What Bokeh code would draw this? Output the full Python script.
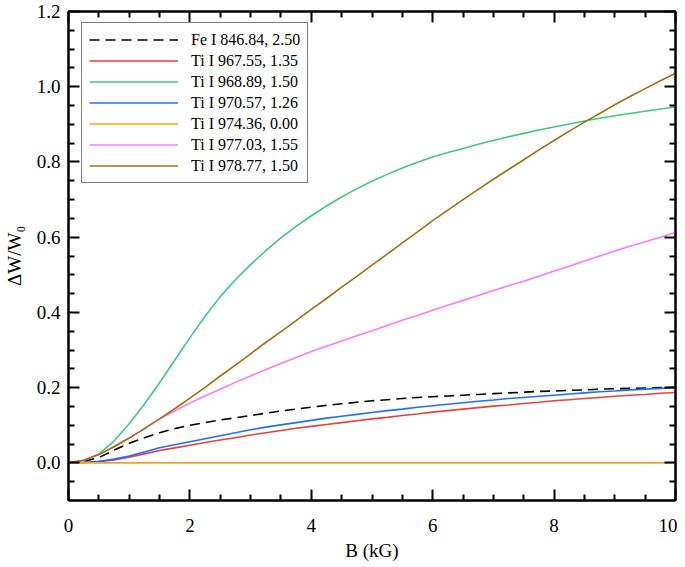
from bokeh.plotting import figure
from bokeh.models import (Legend, LegendItem, LinearAxis, FixedTicker, Range1d,
                          PrintfTickFormatter, CustomJSTickFormatter)
from bokeh.embed import file_html
from bokeh.resources import INLINE

# ---- data ----
B = [0.0, 0.25, 0.5, 0.75, 1.0, 1.25, 1.5, 1.75, 2.0, 2.25, 2.5, 2.75, 3.0,
     3.25, 3.5, 3.75, 4.0, 4.25, 4.5, 4.75, 5.0, 5.25, 5.5, 5.75, 6.0, 6.25,
     6.5, 6.75, 7.0, 7.25, 7.5, 7.75, 8.0, 8.25, 8.5, 8.75, 9.0, 9.25, 9.5,
     9.75, 10.0]

fe_846 = [0, .004, .014, .034, .052, .067, .080, .091, .100, .107, .114, .120,
          .126, .132, .138, .143, .148, .153, .157, .161, .165, .168, .171,
          .174, .176, .178, .180, .182, .184, .186, .188, .190, .191, .193,
          .194, .196, .197, .198, .199, .200, .201]
ti_967 = [0, .001, .003, .008, .015, .024, .033, .040, .047, .054, .061, .067,
          .074, .080, .086, .092, .097, .102, .107, .112, .117, .121, .126,
          .130, .135, .139, .143, .147, .151, .154, .158, .161, .165, .168,
          .171, .174, .177, .180, .182, .185, .187]
ti_968 = [0, .006, .024, .058, .104, .156, .213, .273, .333, .390, .442, .487,
          .527, .564, .598, .629, .657, .683, .707, .729, .749, .767, .784,
          .799, .813, .825, .836, .847, .857, .867, .876, .885, .893, .901,
          .909, .916, .923, .929, .935, .941, .946]
ti_970 = [0, .001, .004, .010, .018, .029, .040, .048, .056, .064, .072, .080,
          .088, .095, .101, .107, .113, .119, .124, .129, .134, .139, .143,
          .148, .152, .156, .160, .164, .167, .171, .174, .177, .180, .183,
          .186, .189, .191, .194, .196, .198, .200]
ti_974 = [0, 0, 0, 0, 0, 0, 0, 0, 0, 0, 0, 0, 0, 0, 0, 0, 0, 0, 0, 0, 0,
          0, 0, 0, 0, 0, 0, 0, 0, 0, 0, 0, 0, 0, 0, 0, 0, 0, 0, 0, 0]
ti_977 = [0, .007, .022, .043, .066, .091, .117, .138, .159, .178, .196, .214,
          .231, .248, .264, .280, .296, .310, .324, .338, .351, .365, .379,
          .392, .406, .419, .432, .445, .458, .471, .483, .496, .510, .523,
          .537, .550, .563, .576, .588, .600, .613]
ti_978 = [0, .007, .022, .043, .066, .091, .117, .144, .172, .201, .231, .260,
          .290, .320, .349, .378, .408, .437, .467, .496, .526, .555, .585,
          .614, .644, .672, .700, .727, .754, .780, .806, .832, .857, .882,
          .906, .929, .952, .974, .995, 1.016, 1.036]

labels = ["Fe I 846.84, 2.50", "Ti I 967.55, 1.35", "Ti I 968.89, 1.50",
          "Ti I 970.57, 1.26", "Ti I 974.36, 0.00", "Ti I 977.03, 1.55",
          "Ti I 978.77, 1.50"]
series = [fe_846, ti_967, ti_968, ti_970, ti_974, ti_977, ti_978]
colors = ["#000000", "#e8403a", "#3fca7c", "#1f6ffc", "#fba11c", "#ff7bf6", "#a46f12"]
dashes = ["10 6", "solid", "solid", "solid", "solid", "solid", "solid"]

x_major = [0, 2, 4, 6, 8, 10]
x_minor = [0.5, 1.0, 1.5, 2.5, 3.0, 3.5, 4.5, 5.0, 5.5, 6.5, 7.0, 7.5,
           8.5, 9.0, 9.5]
y_major = [0.0, 0.2, 0.4, 0.6, 0.8, 1.0, 1.2]
y_minor = [-0.05, 0.05, 0.1, 0.15, 0.25, 0.3, 0.35, 0.45, 0.5, 0.55, 0.65,
           0.7, 0.75, 0.85, 0.9, 0.95, 1.05, 1.1, 1.15]

FONT = "Liberation Serif"

p = figure(width=677, height=566, output_backend="svg",
           toolbar_location=None,
           x_range=Range1d(0, 10), y_range=Range1d(-0.1, 1.2),
           x_axis_label="B (kG)", y_axis_label="ΔW/W₀",
           min_border_left=63, min_border_right=2, min_border_top=11,
           min_border_bottom=66)
p.grid.visible = False
p.outline_line_color = "black"
p.outline_line_width = 2
p.background_fill_color = "white"

xt = FixedTicker(ticks=x_major, minor_ticks=x_minor)
yt = FixedTicker(ticks=y_major, minor_ticks=y_minor)


def style(ax):
    ax.axis_line_color = "black"
    ax.axis_line_width = 2
    ax.major_tick_line_color = "black"
    ax.major_tick_line_width = 2
    ax.minor_tick_line_color = "black"
    ax.minor_tick_line_width = 2
    ax.major_tick_in = 11
    ax.major_tick_out = 0
    ax.minor_tick_in = 6
    ax.minor_tick_out = 0
    ax.major_label_text_font = FONT
    ax.major_label_text_font_size = "19px"
    ax.major_label_text_color = "black"
    ax.axis_label_text_font = FONT
    ax.axis_label_text_font_size = "19px"
    ax.axis_label_text_font_style = "normal"
    ax.axis_label_text_color = "black"


xa = p.xaxis[0]
xa.ticker = xt
style(xa)
xa.major_label_standoff = 18
xa.axis_label_standoff = 5

ya = p.yaxis[0]
ya.ticker = yt
style(ya)
ya.major_label_standoff = 8
ya.axis_label_standoff = 9
ya.formatter = PrintfTickFormatter(format="%.1f")

blank = CustomJSTickFormatter(code="return ''")
top = LinearAxis(ticker=xt, formatter=blank)
style(top)
top.major_label_standoff = 0
p.add_layout(top, "above")
right = LinearAxis(ticker=yt, formatter=blank)
style(right)
right.major_label_standoff = 0
p.add_layout(right, "right")

items = []
for lab, ys, c, d in zip(labels, series, colors, dashes):
    r = p.line(B, ys, line_color=c, line_width=1.6, line_dash=d)
    items.append(LegendItem(label=lab, renderers=[r]))

leg = Legend(items=items, location=(13, 317))
leg.label_text_font = FONT
leg.label_text_font_size = "16px"
leg.label_text_color = "black"
leg.padding = 7
leg.spacing = 2
leg.glyph_height = 19
leg.label_height = 19
leg.glyph_width = 89
leg.label_standoff = 13
leg.border_line_color = "black"
leg.border_line_width = 1.5
leg.background_fill_alpha = 1
leg.margin = 0
p.add_layout(leg, "center")

open("out.html", "w").write(file_html(p, INLINE))
